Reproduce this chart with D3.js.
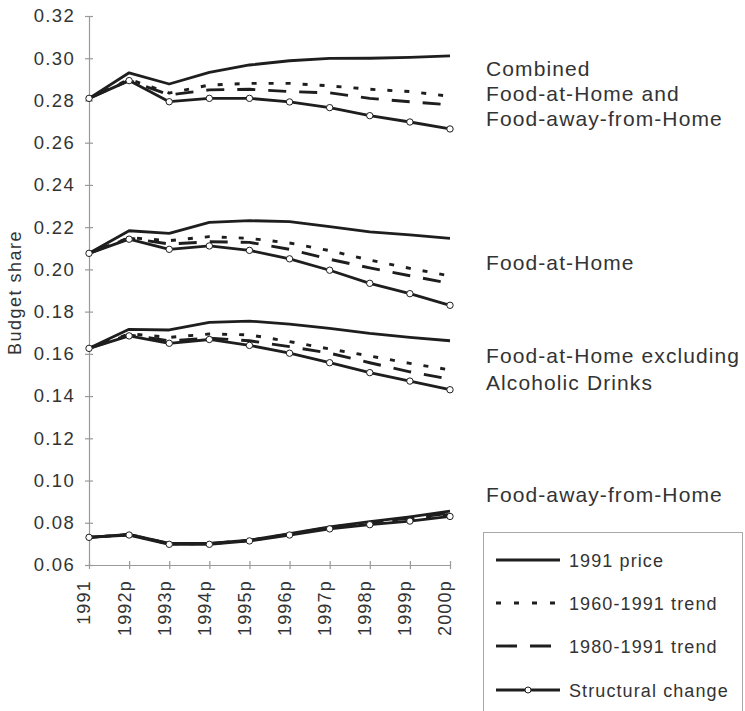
<!DOCTYPE html>
<html>
<head>
<meta charset="utf-8">
<script src="https://cdn.jsdelivr.net/npm/d3@7"></script>
<style>
  html, body { margin: 0; padding: 0; background: #fff; }
  svg { display: block; }
  text { font-family: "Liberation Sans", Arial, sans-serif; fill: #333; }
</style>
</head>
<body>
<svg id="chart" width="745" height="711"></svg>
<script>
// Years on the horizontal axis (p = projection)
const years = ["1991", "1992p", "1993p", "1994p", "1995p", "1996p", "1997p", "1998p", "1999p", "2000p"];
const yTicks = [0.06, 0.08, 0.10, 0.12, 0.14, 0.16, 0.18, 0.20, 0.22, 0.24, 0.26, 0.28, 0.30, 0.32];

// Combined Food-at-Home and Food-away-from-Home
const combinedPrice      = [0.2810, 0.2931, 0.2878, 0.2933, 0.2968, 0.2988, 0.2999, 0.3000, 0.3004, 0.3011];
const combinedTrend6091  = [0.2810, 0.2900, 0.2835, 0.2873, 0.2881, 0.2881, 0.2869, 0.2853, 0.2842, 0.2820];
const combinedTrend8091  = [0.2810, 0.2895, 0.2826, 0.2850, 0.2853, 0.2842, 0.2836, 0.2810, 0.2794, 0.2779];
const combinedStructural = [0.2810, 0.2894, 0.2794, 0.2810, 0.2810, 0.2793, 0.2766, 0.2728, 0.2698, 0.2665];

// Food-at-Home
const homePrice      = [0.2076, 0.2183, 0.2171, 0.2223, 0.2231, 0.2226, 0.2202, 0.2178, 0.2163, 0.2147];
const homeTrend6091  = [0.2076, 0.2150, 0.2136, 0.2155, 0.2147, 0.2125, 0.2089, 0.2044, 0.2005, 0.1969];
const homeTrend8091  = [0.2076, 0.2148, 0.2120, 0.2131, 0.2128, 0.2095, 0.2048, 0.2007, 0.1970, 0.1934];
const homeStructural = [0.2076, 0.2143, 0.2095, 0.2111, 0.2090, 0.2050, 0.1996, 0.1934, 0.1885, 0.1830];

// Food-at-Home excluding Alcoholic Drinks
const exclPrice      = [0.1626, 0.1716, 0.1713, 0.1749, 0.1755, 0.1741, 0.1721, 0.1697, 0.1678, 0.1662];
const exclTrend6091  = [0.1626, 0.1695, 0.1678, 0.1694, 0.1690, 0.1658, 0.1623, 0.1590, 0.1555, 0.1524];
const exclTrend8091  = [0.1626, 0.1690, 0.1662, 0.1674, 0.1662, 0.1634, 0.1603, 0.1558, 0.1515, 0.1480];
const exclStructural = [0.1626, 0.1685, 0.1650, 0.1668, 0.1640, 0.1603, 0.1558, 0.1511, 0.1471, 0.1430];

// Food-away-from-Home
const awayPrice      = [0.0731, 0.0745, 0.0702, 0.0702, 0.0718, 0.0748, 0.0780, 0.0805, 0.0828, 0.0855];
const awayTrend6091  = [0.0731, 0.0744, 0.0700, 0.0700, 0.0716, 0.0745, 0.0776, 0.0798, 0.0818, 0.0840];
const awayTrend8091  = [0.0731, 0.0744, 0.0701, 0.0701, 0.0717, 0.0746, 0.0778, 0.0801, 0.0822, 0.0846];
const awayStructural = [0.0731, 0.0742, 0.0698, 0.0698, 0.0714, 0.0742, 0.0771, 0.0791, 0.0808, 0.0830];

// Group captions (lines of text) and legend entries
const groupCaptions = [
  ["Combined", "Food-at-Home and", "Food-away-from-Home"],
  ["Food-at-Home"],
  ["Food-at-Home excluding", "Alcoholic Drinks"],
  ["Food-away-from-Home"]
];
const seriesNames = ["1991 price", "1960-1991 trend", "1980-1991 trend", "Structural change"];

const groups = [
  [combinedPrice, combinedTrend6091, combinedTrend8091, combinedStructural],
  [homePrice, homeTrend6091, homeTrend8091, homeStructural],
  [exclPrice, exclTrend6091, exclTrend8091, exclStructural],
  [awayPrice, awayTrend6091, awayTrend8091, awayStructural]
];

// ---- drawing ----
const svg = d3.select("#chart");
const ink = "#1e1e1e";
const axisGrey = "#9a9a9a";

const x = d3.scalePoint().domain(years).range([89, 450]);
const y = d3.scaleLinear().domain([0.06, 0.32]).range([565, 16]);

const seriesStyle = [
  { dash: null,    width: 2.8 },
  { dash: "5,12",  width: 2.9 },
  { dash: "18,13", width: 2.9 },
  { dash: null,    width: 2.8 }
];

// Y axis
const yAxis = svg.append("g")
  .attr("transform", `translate(${x(years[0])},0)`)
  .call(d3.axisLeft(y).tickValues(yTicks).tickFormat(d3.format(".2f")).tickSize(4).tickSizeOuter(0).tickPadding(10));
yAxis.select(".domain").attr("stroke", axisGrey).attr("stroke-width", 1.2);
yAxis.selectAll(".tick line").attr("stroke", axisGrey).attr("x1", 4).attr("stroke-width", 1.2);
yAxis.selectAll(".tick text")
  .style("font-family", "'Liberation Sans', Arial, sans-serif")
  .style("font-size", "18.5px").style("letter-spacing", "1.3px").attr("fill", "#333");

// X axis
const xAxis = svg.append("g")
  .attr("transform", `translate(0,${y(0.06)})`)
  .call(d3.axisBottom(x).tickSize(4).tickSizeOuter(0));
xAxis.select(".domain").attr("stroke", axisGrey).attr("stroke-width", 1.2);
xAxis.selectAll(".tick line").attr("stroke", axisGrey).attr("y1", -4).attr("stroke-width", 1.2);
xAxis.selectAll(".tick text")
  .attr("transform", "rotate(-90)")
  .attr("text-anchor", "end")
  .attr("x", -15).attr("y", 0).attr("dy", "0.05em")
  .style("font-family", "'Liberation Sans', Arial, sans-serif")
  .style("font-size", "18px").style("letter-spacing", "1.2px").attr("fill", "#333");

// Y axis title
svg.append("text")
  .attr("transform", `translate(21,${(y(0.06) + y(0.32)) / 2 + 2}) rotate(-90)`)
  .attr("text-anchor", "middle")
  .style("font-size", "18px").style("letter-spacing", "1.5px")
  .attr("fill", "#333")
  .text("Budget share");

// Series lines
const line = d3.line().x((d, i) => x(years[i])).y(d => y(d));
const plot = svg.append("g");
groups.forEach(series => {
  series.forEach((vals, si) => {
    const st = seriesStyle[si];
    const p = plot.append("path")
      .datum(vals)
      .attr("d", line)
      .attr("fill", "none")
      .attr("stroke", ink)
      .attr("stroke-width", st.width)
      .attr("stroke-linejoin", "round");
    if (st.dash) p.attr("stroke-dasharray", st.dash);
  });
  // markers on the structural-change series
  plot.selectAll(null)
    .data(series[3])
    .enter().append("circle")
    .attr("cx", (d, i) => x(years[i]))
    .attr("cy", d => y(d))
    .attr("r", 3.2)
    .attr("fill", "#fff")
    .attr("stroke", ink)
    .attr("stroke-width", 1);
});

// Group captions on the right
const captionBaselines = [[76, 101, 126], [270], [363, 390], [502]];
groupCaptions.forEach((lines, gi) => {
  lines.forEach((t, li) => {
    svg.append("text")
      .attr("x", 486)
      .attr("y", captionBaselines[gi][li])
      .style("font-size", "21px").style("letter-spacing", "1.1px")
      .attr("fill", "#333")
      .text(t);
  });
});

// Legend
const legend = svg.append("g");
legend.append("rect")
  .attr("x", 483.5).attr("y", 532.5)
  .attr("width", 259).attr("height", 200)
  .attr("fill", "#fff").attr("stroke", "#a8a8a8").attr("stroke-width", 1);
const legendRows = [560, 603, 646, 690];
const legendDash = [null, "5,13", "21,13", null];
seriesNames.forEach((name, i) => {
  const ly = legendRows[i];
  const l = legend.append("line")
    .attr("x1", 496).attr("x2", 560)
    .attr("y1", ly).attr("y2", ly)
    .attr("stroke", ink).attr("stroke-width", seriesStyle[i].width);
  if (legendDash[i]) l.attr("stroke-dasharray", legendDash[i]);
  if (i === 3) {
    legend.append("circle")
      .attr("cx", 528).attr("cy", ly).attr("r", 3)
      .attr("fill", "#fff").attr("stroke", ink).attr("stroke-width", 1);
  }
  legend.append("text")
    .attr("x", 569).attr("y", ly + 6.5)
    .style("font-size", "18px").style("letter-spacing", "1.1px")
    .attr("fill", "#333")
    .text(name);
});
</script>
</body>
</html>
